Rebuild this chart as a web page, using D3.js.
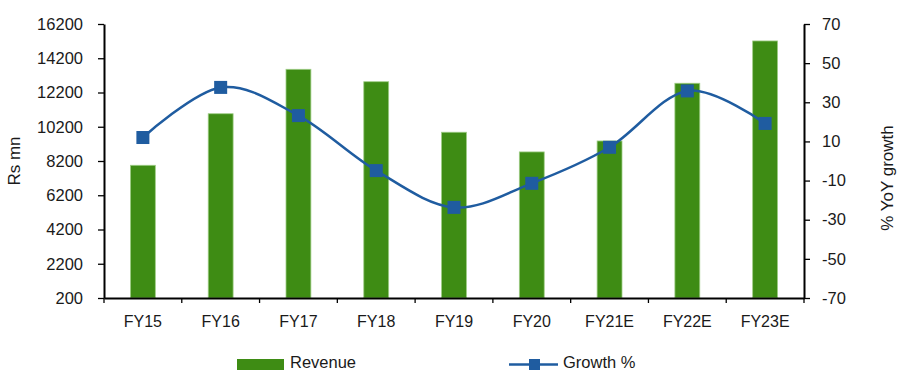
<!DOCTYPE html>
<html>
<head>
<meta charset="utf-8">
<script src="https://cdn.jsdelivr.net/npm/d3@7"></script>
<style>
  body { margin: 0; background: #fff; }
  svg text { font-family: "Liberation Sans", Arial, sans-serif; fill: #1a1a1a; }
  .axis path, .axis line { stroke: #000; }
</style>
</head>
<body>
<svg width="903" height="372"></svg>
<script>
// data
var years = ['FY15', 'FY16', 'FY17', 'FY18', 'FY19', 'FY20', 'FY21E', 'FY22E', 'FY23E'];
var revenue = [7950, 10960, 13555, 12830, 9880, 8730, 9370, 12740, 15210];
var growth = [12, 37.6, 23.2, -4.9, -23.7, -11.4, 7.0, 35.8, 19.2];
var leftTicks = [200, 2200, 4200, 6200, 8200, 10200, 12200, 14200, 16200];
var rightTicks = [-70, -50, -30, -10, 10, 30, 50, 70];

var GREEN = '#3e8c14', BLUE = '#1f5ca0';
var svg = d3.select('svg');
var plain = function(d) {return String(d);};   // no thousands comma, ascii minus

var x = d3.scaleBand().domain(years).range([104, 804]).padding(0);
var yL = d3.scaleLinear().domain([200, 16200]).range([298, 24]);
var yR = d3.scaleLinear().domain([-70, 70]).range([298, 24]);
var barW = x.bandwidth() * 0.32;

// bars
svg.append('g')
    .selectAll('rect')
    .data(revenue)
    .enter()
    .append('rect')
    .attr('x', function(d, i) {return x(years[i]) + x.bandwidth()/2 - barW/2;})
    .attr('y', function(d) {return yL(d);})
    .attr('width', barW)
    .attr('height', function(d) {return yL(200) - yL(d);})
    .style('fill', GREEN)
    .style('stroke', '#9fcd86')
    .style('stroke-width', 0.8);

// axes
var left = svg.append('g')
    .attr('class', 'axis')
    .attr('transform', 'translate(104,0)')
    .call(d3.axisLeft(yL).tickValues(leftTicks).tickFormat(plain)
        .tickSize(6).tickPadding(15).tickSizeOuter(0));
var right = svg.append('g')
    .attr('class', 'axis')
    .attr('transform', 'translate(804,0)')
    .call(d3.axisRight(yR).tickValues(rightTicks).tickFormat(plain)
        .tickSize(6).tickPadding(12).tickSizeOuter(0));
var bottom = svg.append('g')
    .attr('class', 'axis')
    .attr('transform', 'translate(0,298)')
    .call(d3.axisBottom(x).tickSize(0).tickPadding(18).tickSizeOuter(0));

// category boundary ticks on the x axis
bottom.selectAll('.bound')
    .data(d3.range(years.length + 1))
    .enter()
    .append('line')
    .attr('x1', function(i) {return 104 + i * x.bandwidth();})
    .attr('x2', function(i) {return 104 + i * x.bandwidth();})
    .attr('y1', 0)
    .attr('y2', 5)
    .style('stroke', '#000')
    .style('stroke-width', 1.3);

[left, right, bottom].forEach(function(g) {
    g.select('.domain').style('stroke-width', 2);
    g.selectAll('.tick line').style('stroke-width', 1.3);
    g.selectAll('text').style('font-size', '16.5px').style('fill', '#1a1a1a');
});
bottom.selectAll('text').style('font-size', '16px');

// growth line
var line = d3.line()
    .x(function(d, i) {return x(years[i]) + x.bandwidth()/2;})
    .y(function(d) {return yR(d);})
    .curve(d3.curveCatmullRom.alpha(0));
svg.append('path')
    .datum(growth)
    .attr('d', line)
    .style('fill', 'none')
    .style('stroke', BLUE)
    .style('stroke-width', 2.5);

svg.append('g')
    .selectAll('rect')
    .data(growth)
    .enter()
    .append('rect')
    .attr('x', function(d, i) {return x(years[i]) + x.bandwidth()/2 - 6.5;})
    .attr('y', function(d) {return yR(d) - 6.5;})
    .attr('width', 13)
    .attr('height', 13)
    .style('fill', BLUE);

// axis titles
svg.append('text')
    .attr('transform', 'translate(20,161) rotate(-90)')
    .attr('text-anchor', 'middle')
    .style('font-size', '17px')
    .text('Rs mn');
svg.append('text')
    .attr('transform', 'translate(893,178) rotate(-90)')
    .attr('text-anchor', 'middle')
    .style('font-size', '17px')
    .text('% YoY growth');

// legend
var legend = svg.append('g');
legend.append('rect')
    .attr('x', 237).attr('y', 359)
    .attr('width', 47).attr('height', 11)
    .style('fill', GREEN);
legend.append('text')
    .attr('x', 290).attr('y', 368)
    .style('font-size', '16.5px')
    .text('Revenue');
legend.append('line')
    .attr('x1', 509).attr('x2', 558)
    .attr('y1', 364.5).attr('y2', 364.5)
    .style('stroke', BLUE)
    .style('stroke-width', 2.5);
legend.append('rect')
    .attr('x', 529).attr('y', 359)
    .attr('width', 11).attr('height', 11)
    .style('fill', BLUE);
legend.append('text')
    .attr('x', 563).attr('y', 368)
    .style('font-size', '16.5px')
    .text('Growth %');
</script>
</body>
</html>
